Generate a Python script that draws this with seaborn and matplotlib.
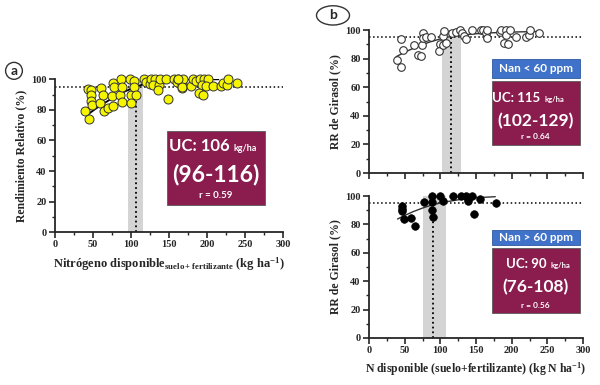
import matplotlib
matplotlib.use("Agg")
import matplotlib.pyplot as plt
from matplotlib.patches import Rectangle, Ellipse
from matplotlib.ticker import MultipleLocator
import pandas as pd
import seaborn as sns

# panel a: all sites (yellow)
a_x = [39.5, 44.7, 43.9, 47, 47, 47.4, 49, 60.5, 59, 63.6, 65, 69.3, 76, 74.6, 76, 77.6,
       85.5, 87.7, 86.4, 88.6, 99.6, 99.6, 98.7, 104.4, 104.4, 107, 117, 120, 125, 126,
       131.6, 129, 137, 136, 138, 145.7, 148, 156.6, 160, 161.4, 166.7, 168.9, 167.5, 162,
       167.5, 178.5, 182, 185.5, 190.8, 196.5, 201, 194, 198.7, 207.5, 190, 195, 219, 221.5,
       226, 228, 240]
a_y = [79, 74.3, 93.5, 92.8, 90, 85.8, 83.5, 94.6, 84.5, 89.5, 79.3, 81.3, 82.4, 89, 97.8, 95,
       89.5, 85.2, 100, 95, 90, 84.8, 100, 99, 95, 90, 100, 98, 97.2, 100,
       100, 96, 96, 92.8, 100, 100, 87, 100, 98.2, 100, 97.2, 100, 94.4, 100,
       95, 95.4, 100, 98.7, 100, 100, 100, 96, 95.4, 95.4, 91, 90, 95.4, 97.8,
       96, 100, 97.8]
a_curve_x = [42, 50, 60, 70, 80, 90, 100, 110, 120, 130, 140, 150, 215]
a_curve_y = [76.5, 79.5, 83, 86, 89, 91.6, 93.8, 95.7, 97.3, 98.5, 99.4, 100, 100]

# panel b top: Nan < 60 ppm
bt_x = [38.8, 44.4, 44.4, 47.2, 63.6, 69, 72.9, 73.9, 75.2, 76, 79.4, 86.4, 99, 98, 104, 104,
        105.5, 108.4, 117, 122.4, 127.6, 130, 133.6, 136, 144, 157.5, 160, 164, 165, 166,
        183, 185.5, 189, 191.6, 192.5, 195, 197, 206.5, 220.6, 224, 225, 238]
bt_y = [79, 74.3, 93.5, 86, 89.5, 82.5, 81.8, 89.5, 97.7, 94.6, 95.3, 95.3, 90.2, 85.3, 89.5, 95.8,
        99.3, 90.7, 97.7, 98.8, 100, 97.7, 95.8, 93.5, 100, 100, 100, 97.7, 100, 94.2,
        98.8, 100, 91, 100, 96.5, 90, 100, 95.3, 95.3, 96.5, 100, 98]
bt_curve_x = [38, 50, 62, 75, 85, 100, 110, 120, 132, 150, 170, 190, 210, 239]
bt_curve_y = [81.3, 84.5, 87.2, 89.8, 91.6, 93.8, 95, 95.9, 96.6, 97.4, 98.0, 98.4, 98.7, 99]

# panel b bottom: Nan > 60 ppm
bb_x = [46.7, 46.7, 46.7, 49, 58.9, 64.5, 77, 87.9, 88.8, 88, 89.3, 99.5, 104,
        117.3, 128.8, 135.8, 139, 138.5, 144.5, 147.2, 155.6, 178]
bb_y = [93.2, 91, 89.5, 83.8, 84.3, 79, 95.6, 100, 95.6, 90, 85.2, 100, 96.5,
        100, 100, 100, 98, 96.5, 100, 87.3, 97.9, 94.9]
bb_curve_x = [40, 50, 62, 75, 85.5, 100, 109, 120, 132, 150, 177]
bb_curve_y = [83.8, 86.3, 89, 91.5, 93.2, 95.1, 96, 96.9, 97.9, 98.8, 99.5]

# critical thresholds: UC, lower, upper, r
uc_a = [106, 96, 116, 0.59]
uc_bt = [115, 102, 129, 0.64]
uc_bb = [90, 76, 108, 0.56]
rr_ref = 95

sns.set_style("ticks")
plt.rcParams['font.family'] = ['Liberation Serif', 'DejaVu Serif']
plt.rcParams['font.weight'] = 'bold'
plt.rcParams['axes.labelweight'] = 'bold'
plt.rcParams['mathtext.fontset'] = 'custom'
plt.rcParams['mathtext.rm'] = 'Liberation Serif:bold'
plt.rcParams['mathtext.it'] = 'Liberation Serif:bold'

maroon = '#8A1C4E'
blue = '#3F72C8'
box_font = ['Lato', 'DejaVu Sans']

fig = plt.figure(figsize=(6, 3.85), dpi=100)
ax_a = fig.add_axes([0.0917, 0.397, 0.38, 0.397])
ax_bt = fig.add_axes([0.615, 0.5506, 0.3567, 0.3714])
ax_bb = fig.add_axes([0.615, 0.1221, 0.3567, 0.3688])


def style_axis(ax, uc, show_xlabels=True):
    ax.set_xlim(0, 300)
    ax.set_ylim(0, 100)
    ax.axvspan(uc[1], uc[2], ymax=1.0, color='#d4d4d4', lw=0, zorder=0)
    ax.vlines(uc[0], 0, rr_ref, colors='black', linestyles=':', lw=1.3, zorder=1)
    ax.axhline(rr_ref, ls=':', color='black', lw=1.1, zorder=1)
    ax.xaxis.set_major_locator(MultipleLocator(50))
    ax.xaxis.set_minor_locator(MultipleLocator(25))
    ax.yaxis.set_major_locator(MultipleLocator(20))
    ax.yaxis.set_minor_locator(MultipleLocator(10))
    ax.tick_params(which='major', length=4, width=1.2, labelsize=7.5, pad=2)
    ax.tick_params(which='minor', length=2.5, width=1.0)
    if not show_xlabels:
        ax.tick_params(axis='x', labelbottom=False)
    for s in ['left', 'bottom']:
        ax.spines[s].set_linewidth(1.3)
    sns.despine(ax=ax)


def add_box(ax, x0, x1, y0, y1, uc, uc_split, fs_uc, fs_rng, fs_small, ys):
    ax.add_patch(Rectangle((x0, y0), x1 - x0, y1 - y0, transform=ax.transAxes,
                           facecolor=maroon, edgecolor='#5a5a5a', lw=0.6, clip_on=False, zorder=5))
    xc = (x0 + x1) / 2
    ax.text(uc_split, ys[0], 'UC: %d' % uc[0], transform=ax.transAxes, ha='right', va='baseline',
            color='white', fontsize=fs_uc, family=box_font, weight='bold', zorder=6)
    ax.text(uc_split + 0.02, ys[0], 'kg/ha', transform=ax.transAxes, ha='left', va='baseline',
            color='white', fontsize=fs_small, family=box_font, weight='bold', zorder=6)
    ax.text(xc, ys[1], '(%d-%d)' % (uc[1], uc[2]), transform=ax.transAxes, ha='center', va='center',
            color='white', fontsize=fs_rng, family=box_font, weight='bold', zorder=6)
    ax.text(xc, ys[2], 'r = %.2f' % uc[3], transform=ax.transAxes, ha='center', va='center',
            color='white', fontsize=fs_small + 0.5, family=box_font, weight='bold', zorder=6)


def add_label_box(ax, x0, x1, y0, y1, text):
    ax.add_patch(Rectangle((x0, y0), x1 - x0, y1 - y0, transform=ax.transAxes,
                           facecolor=blue, edgecolor='#2d5aa0', lw=0.6, clip_on=False, zorder=5))
    ax.text((x0 + x1) / 2, (y0 + y1) / 2, text, transform=ax.transAxes, ha='center', va='center',
            color='white', fontsize=8.5, family=box_font, weight='bold', zorder=6)


# panel a
df_a = pd.DataFrame({'N': a_x, 'RR': a_y})
style_axis(ax_a, uc_a)
ax_a.plot(a_curve_x, a_curve_y, color='black', lw=1.3, zorder=2)
sns.scatterplot(data=df_a, x='N', y='RR', ax=ax_a, color='#f5f500', edgecolor='#333333',
                linewidth=0.7, s=42, zorder=3, clip_on=False)
ax_a.set_xlabel('Nitrógeno disponible$_{\\mathregular{suelo+fertilizante}}$ (kg ha$^{\\mathregular{-1}}$)',
                fontsize=9, labelpad=4)
ax_a.set_ylabel('Rendimiento Relativo (%)', fontsize=8.5, labelpad=3)
add_box(ax_a, 0.49, 0.92, 0.18, 0.66, uc_a, 0.765, 12, 16.5, 6.5, [0.53, 0.375, 0.242])

# panel b top
df_bt = pd.DataFrame({'N': bt_x, 'RR': bt_y})
style_axis(ax_bt, uc_bt, show_xlabels=False)
ax_bt.plot(bt_curve_x, bt_curve_y, color='#333333', lw=1.0, zorder=2)
sns.scatterplot(data=df_bt, x='N', y='RR', ax=ax_bt, color='white', edgecolor='#333333',
                linewidth=0.8, s=30, zorder=3, clip_on=False)
ax_bt.set_xlabel('')
ax_bt.set_ylabel('RR de Girasol (%)', fontsize=8.5, labelpad=3)
add_label_box(ax_bt, 0.573, 0.984, 0.666, 0.795, 'Nan < 60 ppm')
add_box(ax_bt, 0.573, 0.984, 0.196, 0.643, uc_bt, 0.80, 9.5, 12.5, 5.5, [0.50, 0.365, 0.254])

# panel b bottom
df_bb = pd.DataFrame({'N': bb_x, 'RR': bb_y})
style_axis(ax_bb, uc_bb)
ax_bb.plot(bb_curve_x, bb_curve_y, color='#333333', lw=1.0, zorder=2)
sns.scatterplot(data=df_bb, x='N', y='RR', ax=ax_bb, color='black', edgecolor='black',
                linewidth=0.5, s=30, zorder=3, clip_on=False)
ax_bb.set_xlabel('N disponible (suelo+fertilizante) (kg N ha$^{\\mathregular{-1}}$)', fontsize=8.5, labelpad=4)
ax_bb.set_ylabel('RR de Girasol (%)', fontsize=8.5, labelpad=3)
add_label_box(ax_bb, 0.573, 0.984, 0.655, 0.76, 'Nan > 60 ppm')
add_box(ax_bb, 0.573, 0.984, 0.174, 0.632, uc_bb, 0.83, 9.5, 12.5, 5.5, [0.49, 0.36, 0.232])

# panel letters
fig.add_artist(Ellipse((0.0233, 0.816), 0.028, 0.044, transform=fig.transFigure,
                       facecolor='white', edgecolor='#333333', lw=1.0))
fig.text(0.0233, 0.816, 'a', ha='center', va='center', fontsize=10, family=box_font, weight='bold')
fig.add_artist(Ellipse((0.555, 0.96), 0.055, 0.05, transform=fig.transFigure,
                       facecolor='white', edgecolor='#333333', lw=1.0))
fig.text(0.555, 0.96, 'b', ha='center', va='center', fontsize=10, family=box_font, weight='bold')

fig.savefig('out.png', dpi=100)
